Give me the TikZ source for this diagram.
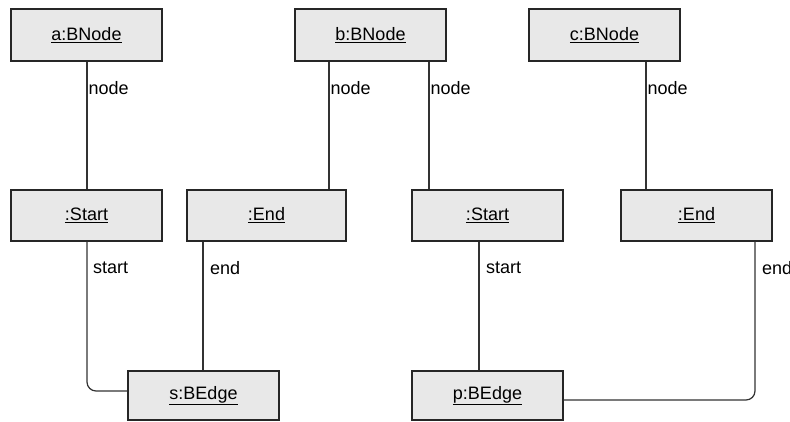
\documentclass[tikz,border=0pt]{standalone}
\usepackage{fontspec}
\setmainfont{Liberation Sans}
\begin{document}
\begin{tikzpicture}[x=1pt,y=-1pt,
  obj/.style={draw=black!85, line width=1.3pt, fill=black!9, minimum width=151pt,
    minimum height=52pt, inner sep=0pt, font=\fontsize{18}{21}\selectfont},
  link/.style={draw=black!80, line width=1.2pt},
  role/.style={anchor=west, inner sep=0pt, font=\fontsize{18}{21}\selectfont}]
\useasboundingbox (0,0) rectangle (790,421);
\fill[white] (0,0) rectangle (790,421);

% object boxes
\node[obj] (a)  at (86.5,35)    {\underline{a:BNode}};
\node[obj] (b)  at (370.5,35)   {\underline{b:BNode}};
\node[obj] (c)  at (604.5,35)   {\underline{c:BNode}};
\node[obj, minimum height=51pt] (st1) at (86.5,215.5)  {\underline{:Start}};
\node[obj, minimum height=51pt, minimum width=159pt] (en1) at (266.5,215.5) {\underline{:End}};
\node[obj, minimum height=51pt] (st2) at (487.5,215.5) {\underline{:Start}};
\node[obj, minimum height=51pt] (en2) at (696.5,215.5) {\underline{:End}};
\node[obj, minimum height=49pt] (s)  at (203.5,395.5)  {\underline{s:BEdge}};
\node[obj, minimum height=49pt] (p)  at (487.5,395.5)  {\underline{p:BEdge}};

% columns of the vertical links
\coordinate (xa)  at (87,0);
\coordinate (xb1) at (329,0);
\coordinate (xb2) at (429,0);
\coordinate (xc)  at (646,0);
\coordinate (xe1) at (203,0);
\coordinate (xs2) at (479,0);
\coordinate (xe2) at (755,0);
\coordinate (yp)  at (0,400);

% links
\draw[link] (a.south -| xa) -- (st1.north -| xa);
\draw[link] (b.south -| xb1) -- (en1.north -| xb1);
\draw[link] (b.south -| xb2) -- (st2.north -| xb2);
\draw[link] (c.south -| xc) -- (en2.north -| xc);
\draw[link, rounded corners=9pt] (st1.south -| xa) |- ([yshift=4.5pt]s.west);
\draw[link] (en1.south -| xe1) -- (s.north -| xe1);
\draw[link] (st2.south -| xs2) -- (p.north -| xs2);
\draw[link, rounded corners=9pt] (en2.south -| xe2) |- (p.east |- yp);

% role labels
\node[role] (r1) at (88.5,88)  {node};
\node[role] (r2) at (330.5,88) {node};
\node[role] (r3) at (430.5,88) {node};
\node[role] (r4) at (647.5,88) {node};
\node[role] (r5) at (93,268)   {start};
\node[role] (r6) at (210,268)  {end};
\node[role] (r7) at (486,268)  {start};
\node[role] (r8) at (762,268)  {end};
\end{tikzpicture}
\end{document}
